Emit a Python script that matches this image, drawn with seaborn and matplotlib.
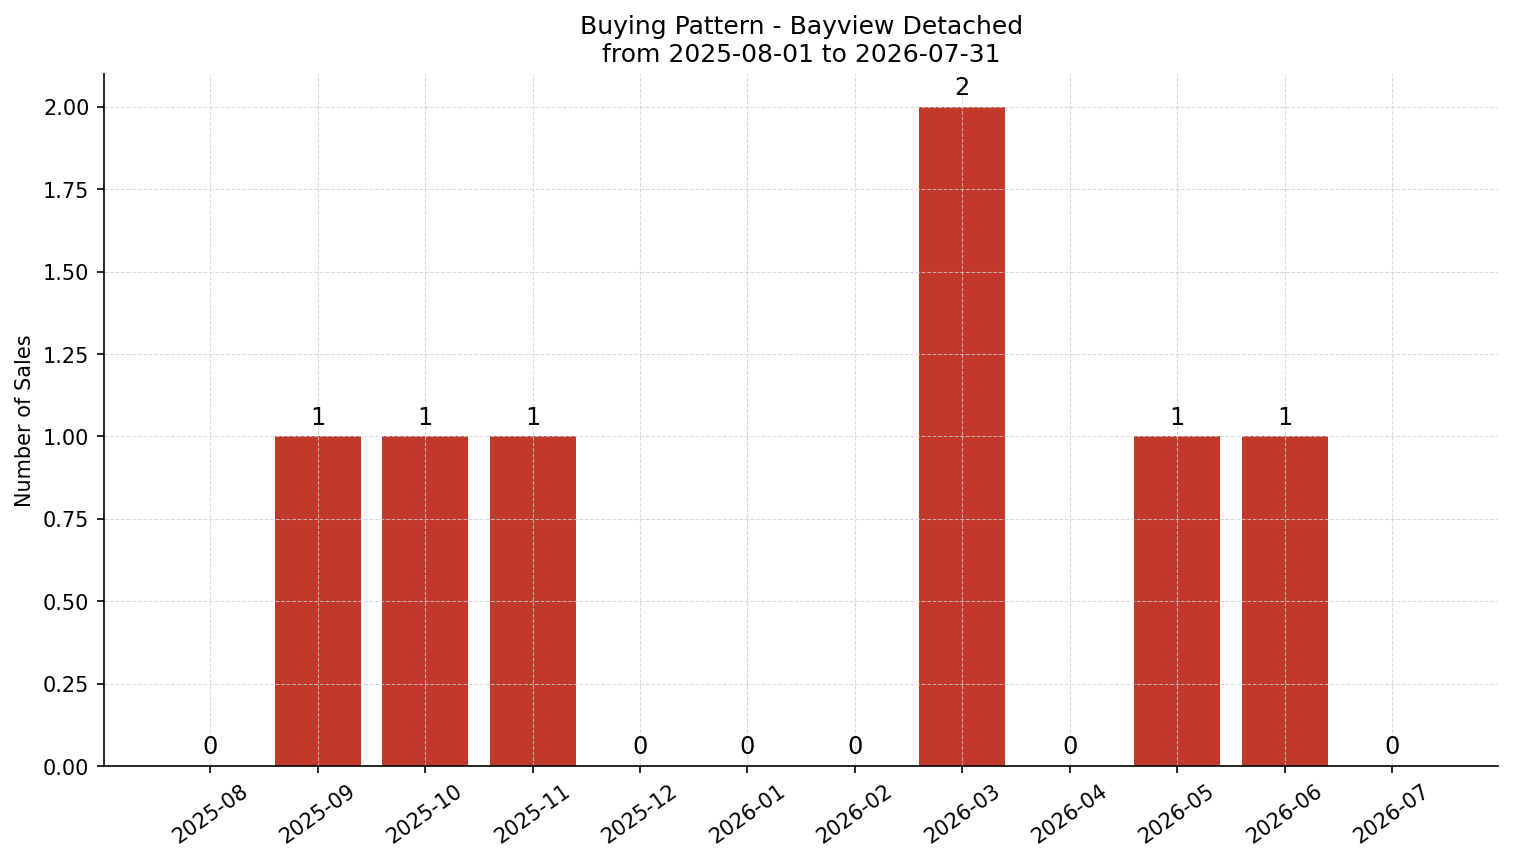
import matplotlib
matplotlib.use("Agg")
import matplotlib.pyplot as plt
import seaborn as sns
import pandas as pd

# monthly sales counts
months = ["2025-08", "2025-09", "2025-10", "2025-11", "2025-12", "2026-01",
          "2026-02", "2026-03", "2026-04", "2026-05", "2026-06", "2026-07"]
sales = [0, 1, 1, 1, 0, 0, 0, 2, 0, 1, 1, 0]

title = "Buying Pattern - Bayview Detached\nfrom 2025-08-01 to 2026-07-31"
bar_color = "#c0392b"

df = pd.DataFrame({"month": months, "sales": sales})

plt.rcParams["font.family"] = ["DejaVu Sans"]

fig, ax = plt.subplots(figsize=(10.09, 5.75), dpi=150)
fig.subplots_adjust(left=0.0687, right=0.990, top=0.914, bottom=0.111)

sns.barplot(data=df, x="month", y="sales", color=bar_color, saturation=1,
            width=0.8, errorbar=None, ax=ax)

for i, v in enumerate(sales):
    ax.annotate(str(v), (i, v), xytext=(0, 3.5), textcoords="offset points",
                ha="center", va="bottom", fontsize=11.5)

ax.set_xlim(-0.99, 11.99)
ax.set_ylim(0, 2.1)
ax.set_title(title, fontsize=12)
ax.set_xlabel("")
ax.set_ylabel("Number of Sales", fontsize=10)
ax.grid(True, linestyle="--", alpha=0.8, color="#d0d0d0", linewidth=0.5)
ax.set_axisbelow("line")
ax.spines["top"].set_visible(False)
ax.spines["right"].set_visible(False)
plt.setp(ax.get_xticklabels(), rotation=35)
ax.tick_params(labelsize=10)

fig.savefig("out.png", dpi=150)
